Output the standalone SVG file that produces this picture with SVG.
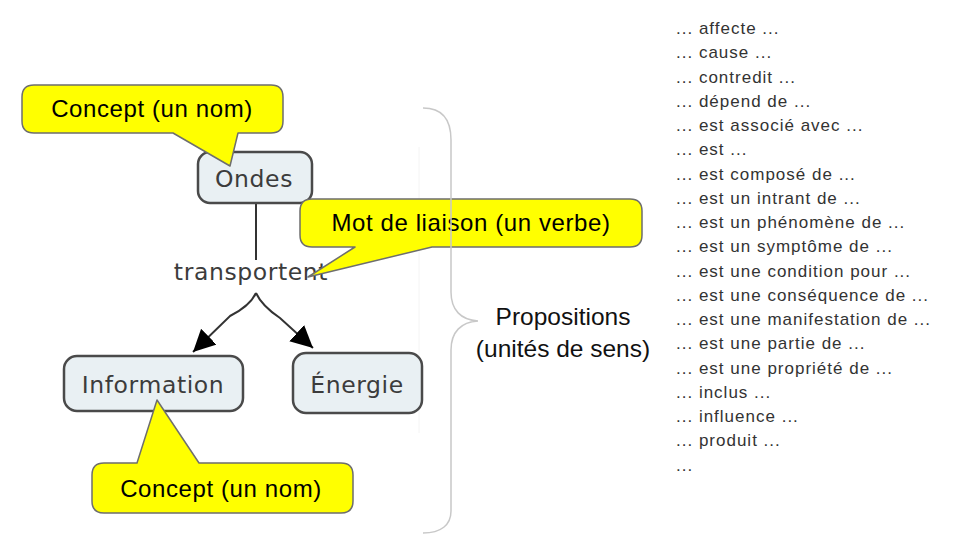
<svg xmlns="http://www.w3.org/2000/svg" width="953" height="552" viewBox="0 0 953 552">
  <defs>
    <style>
      .node rect { fill: #e9f0f3; stroke: #4a4a4a; stroke-width: 2.5; }
      .nodetext { font-family: "DejaVu Sans", Verdana, sans-serif; font-size: 23.5px; fill: #3c3c3c; text-anchor: middle; letter-spacing: 0.6px; }
      .callout path { fill: #ffff00; stroke: #6e6e6e; stroke-width: 1.5; stroke-linejoin: round; }
      .callout text { font-family: "Liberation Sans", Arial, sans-serif; font-size: 24px; fill: #000; text-anchor: middle; letter-spacing: 0.6px; }
      .conn { fill: none; stroke: #333; stroke-width: 2; }
      .brace { fill: none; stroke: #c8c8c8; stroke-width: 1.5; }
      .label { font-family: "Liberation Sans", Arial, sans-serif; font-size: 24.5px; fill: #111; text-anchor: middle; }
      .list text { font-family: "Liberation Sans", Arial, sans-serif; font-size: 17px; fill: #333; letter-spacing: 1px; }
    </style>
    <marker id="arrow" markerUnits="userSpaceOnUse" markerWidth="24" markerHeight="24" refX="22" refY="11" orient="auto" viewBox="0 0 24 24">
      <path d="M0,0 L22,11 L0,22 Z" fill="#000"/>
    </marker>
    <linearGradient id="baseline" x1="0" y1="0" x2="1" y2="0">
      <stop offset="0" stop-color="#bbbbbb"/>
      <stop offset="0.05" stop-color="#666666"/>
      <stop offset="1" stop-color="#666666"/>
    </linearGradient>
  </defs>

  <rect x="0" y="0" width="953" height="552" fill="#ffffff"/>

  <!-- faint guide line -->
  <line x1="419" y1="147" x2="419" y2="433" stroke="#f4f4f4" stroke-width="1"/>

  <!-- connectors -->
  <g id="connectors">
    <line class="conn" x1="256" y1="204" x2="256" y2="260"/>
    <path class="conn" d="M256,293 Q250,306 230,316 L193,352" marker-end="url(#arrow)"/>
    <path class="conn" d="M256,293 Q262,306 280,318 L313,348" marker-end="url(#arrow)"/>
  </g>

  <!-- nodes -->
  <g id="node-ondes" class="node">
    <rect x="198" y="152" width="114" height="51" rx="12"/>
    <text class="nodetext" x="254" y="187">Ondes</text>
  </g>
  <g id="node-transportent">
    <text class="nodetext" x="251" y="280">transportent</text>
  </g>
  <g id="node-information" class="node">
    <rect x="64" y="356" width="179" height="55" rx="13"/>
    <text class="nodetext" x="153" y="393">Information</text>
  </g>
  <g id="node-energie" class="node">
    <rect x="293" y="353" width="129" height="60" rx="13"/>
    <text class="nodetext" x="357" y="393">Énergie</text>
  </g>

  <!-- callouts -->
  <g id="callout-concept-top" class="callout">
    <path d="M34,85 L271,85 Q283,85 283,97 L283,121 Q283,133 271,133 L238,133 L230,166 L173,133 L34,133 Q22,133 22,121 L22,97 Q22,85 34,85 Z"/>
    <text x="152" y="117">Concept (un nom)</text>
  </g>
  <g id="callout-liaison" class="callout">
    <path d="M312,199 L630,199 Q642,199 642,211 L642,235 Q642,247 630,247 L432,247 L308,277 L355,247 L312,247 Q300,247 300,235 L300,211 Q300,199 312,199 Z"/>
    <text x="471" y="231">Mot de liaison (un verbe)</text>
  </g>
  <g id="callout-concept-bottom" class="callout">
    <path d="M104,463 L137,463 L157,400 L199,463 L341,463 Q353,463 353,475 L353,501 Q353,513 341,513 L104,513 Q92,513 92,501 L92,475 Q92,463 104,463 Z"/>
    <text x="221" y="497">Concept (un nom)</text>
  </g>

  <!-- brace -->
  <g id="brace">
    <path class="brace" d="M423,108 C441,108 451,118 451,140 L451,292 C451,310 461,320 478,321 C461,322 451,332 451,350 L451,511 C451,525 441,533 423,533"/>
  </g>

  <g id="propositions">
    <text class="label" x="563" y="325">Propositions</text>
    <text class="label" x="563" y="357">(unités de sens)</text>
  </g>

  <g id="list" class="list">
    <text x="676" y="34">... affecte ...</text>
    <text x="676" y="58.25">... cause ...</text>
    <text x="676" y="82.5">... contredit ...</text>
    <text x="676" y="106.75">... dépend de ...</text>
    <text x="676" y="131">... est associé avec ...</text>
    <text x="676" y="155.25">... est ...</text>
    <text x="676" y="179.5">... est composé de ...</text>
    <text x="676" y="203.75">... est un intrant de ...</text>
    <text x="676" y="228">... est un phénomène de ...</text>
    <text x="676" y="252.25">... est un symptôme de ...</text>
    <text x="676" y="276.5">... est une condition pour ...</text>
    <text x="676" y="300.75">... est une conséquence de ...</text>
    <text x="676" y="325">... est une manifestation de ...</text>
    <text x="676" y="349.25">... est une partie de ...</text>
    <text x="676" y="373.5">... est une propriété de ...</text>
    <text x="676" y="397.75">... inclus ...</text>
    <text x="676" y="422">... influence ...</text>
    <text x="676" y="446.25">... produit ...</text>
    <text x="676" y="470.5">...</text>
  </g>

  <line x1="6" y1="550.5" x2="953" y2="550.5" stroke="url(#baseline)" stroke-width="2"/>
</svg>
